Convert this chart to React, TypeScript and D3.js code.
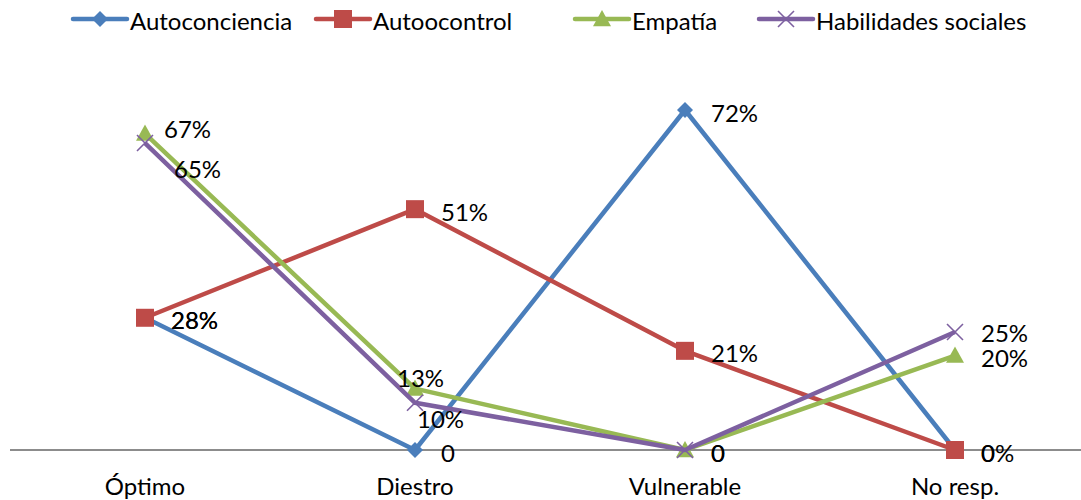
import React, { useRef, useEffect } from "react";
import * as d3 from "d3";

const categories = ["Óptimo", "Diestro", "Vulnerable", "No resp."];
const seriesNames = ["Autoconciencia", "Autoocontrol", "Empatía", "Habilidades sociales"];
const autoconciencia = [28, 0, 72, 0];
const autoocontrol = [28, 51, 21, 0];
const empatia = [67, 13, 0, 20];
const habilidades = [65, 10, 0, 25];
const autoconcienciaLabels = ["28%", "0", "72%", "0"];
const autoocontrolLabels = ["28%", "51%", "21%", "0%"];
const empatiaLabels = ["67%", "13%", "0", "20%"];
const habilidadesLabels = ["65%", "10%", "0", "25%"];

const colors = ["#4A7EBB", "#BE4B48", "#98B954", "#7D60A0"];
const markers = ["diamond", "square", "triangle", "cross"];
// manual label nudges (series index - point index -> [dx, dy])
const labelNudge: Record<string, [number, number]> = {
  "2-0": [-7, -7],
  "3-0": [3, 23],
  "2-1": [-44, -13],
  "3-1": [-24, 14],
  "3-3": [0, -1],
};

const FONT = "Lato, 'Open Sans', sans-serif";
const FS = "24px";

const App: React.FC = () => {
  const ref = useRef<SVGSVGElement | null>(null);

  useEffect(() => {
    if (!ref.current) return;
    const svg = d3.select(ref.current);
    svg.selectAll("*").remove();

    const width = 1081;

    const x = d3.scalePoint().domain(categories).range([145, 955]);
    const y = d3.scaleLinear().domain([0, 72]).range([450, 110]);

    const values = [autoconciencia, autoocontrol, empatia, habilidades];
    const labels = [autoconcienciaLabels, autoocontrolLabels, empatiaLabels, habilidadesLabels];

    // baseline axis
    svg
      .append("line")
      .attr("x1", 10)
      .attr("x2", width)
      .attr("y1", y(0))
      .attr("y2", y(0))
      .attr("stroke", "#8C8C8C")
      .attr("stroke-width", 2);

    // category labels
    svg
      .selectAll(".cat")
      .data(categories)
      .enter()
      .append("text")
      .attr("x", (d) => x(d)!)
      .attr("y", 485)
      .attr("text-anchor", "middle")
      .attr("dominant-baseline", "central")
      .style("font-family", FONT)
      .style("font-size", FS)
      .attr("fill", "#000")
      .text((d) => d);

    const drawMarker = (g: any, kind: string, cx: number, cy: number, color: string, s: number) => {
      if (kind === "diamond") {
        g.append("path")
          .attr("d", `M${cx},${cy - s}L${cx + s},${cy}L${cx},${cy + s}L${cx - s},${cy}Z`)
          .attr("fill", color);
      } else if (kind === "square") {
        g.append("rect")
          .attr("x", cx - s)
          .attr("y", cy - s)
          .attr("width", s * 2)
          .attr("height", s * 2)
          .attr("fill", color);
      } else if (kind === "triangle") {
        g.append("path")
          .attr("d", `M${cx},${cy - s}L${cx + s},${cy + s * 0.8}L${cx - s},${cy + s * 0.8}Z`)
          .attr("fill", color);
      } else {
        g.append("path")
          .attr("d", `M${cx - s},${cy - s}L${cx + s},${cy + s}M${cx - s},${cy + s}L${cx + s},${cy - s}`)
          .attr("stroke", color)
          .attr("stroke-width", 1.6)
          .attr("fill", "none");
      }
    };

    const markerSize = [8, 9, 9, 8];

    const line = d3
      .line<number>()
      .x((_, i) => x(categories[i])!)
      .y((d) => y(d));

    values.forEach((vals, si) => {
      const g = svg.append("g");
      g.append("path")
        .attr("d", line(vals)!)
        .attr("fill", "none")
        .attr("stroke", colors[si])
        .attr("stroke-width", 4.5)
        .attr("stroke-linejoin", "round");
      vals.forEach((v, i) => {
        drawMarker(g, markers[si], x(categories[i])!, y(v), colors[si], markerSize[si]);
      });
    });

    // data labels
    values.forEach((vals, si) => {
      vals.forEach((v, i) => {
        const n = labelNudge[`${si}-${i}`] || [0, 0];
        svg
          .append("text")
          .attr("x", x(categories[i])! + 26 + n[0])
          .attr("y", y(v) + 2 + n[1])
          .attr("dominant-baseline", "central")
          .style("font-family", FONT)
          .style("font-size", FS)
          .attr("fill", "#000")
          .text(labels[si][i]);
      });
    });

    // legend
    const legendX = [73, 316, 575, 759];
    seriesNames.forEach((name, si) => {
      const g = svg.append("g").attr("transform", `translate(${legendX[si]},19)`);
      g.append("line")
        .attr("x1", 0)
        .attr("x2", 54)
        .attr("y1", 0)
        .attr("y2", 0)
        .attr("stroke", colors[si])
        .attr("stroke-width", 4.5)
        .attr("stroke-linecap", "round");
      drawMarker(g, markers[si], 27, 0, colors[si], markerSize[si]);
      g.append("text")
        .attr("x", 57)
        .attr("y", 1)
        .attr("dominant-baseline", "central")
        .style("font-family", FONT)
        .style("font-size", FS)
        .attr("fill", "#000")
        .text(name);
    });
  }, []);

  return (
    <svg
      ref={ref}
      width={1081}
      height={500}
      style={{ position: "absolute", left: 0, top: 0, background: "#fff" }}
    ></svg>
  );
};

export default App;
